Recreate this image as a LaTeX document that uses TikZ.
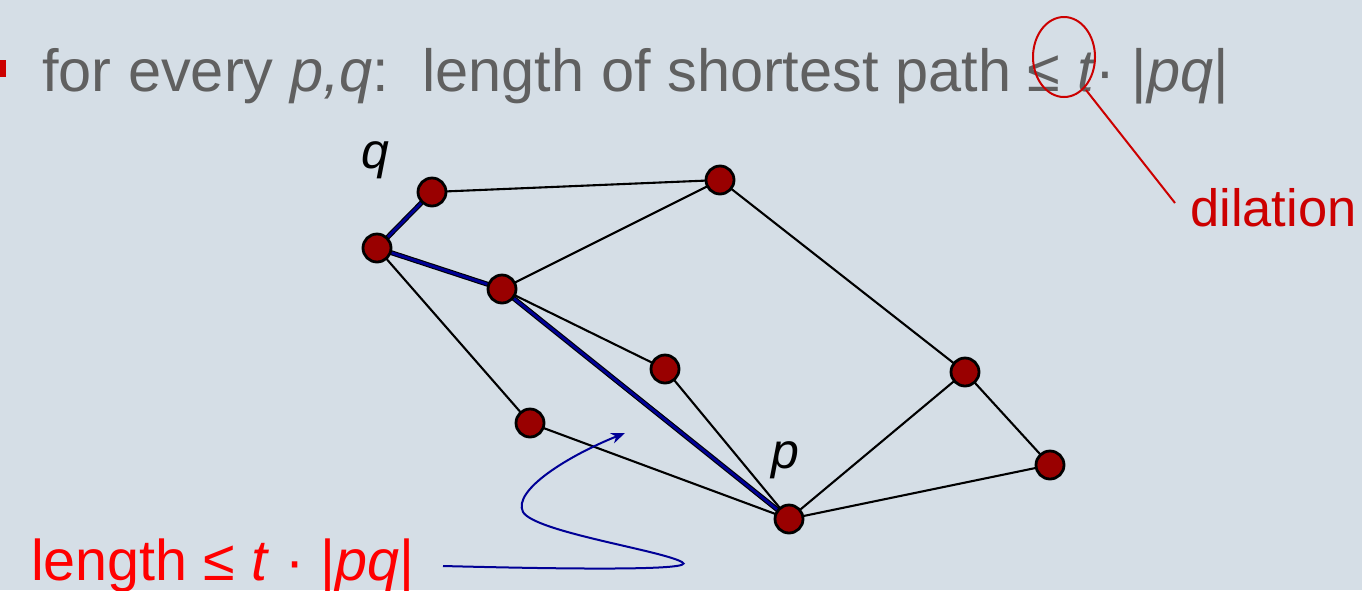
\documentclass[tikz,border=0pt]{standalone}
\usepackage{fontspec}
\setmainfont{Liberation Sans}
\usetikzlibrary{arrows.meta}
\definecolor{bg}{RGB}{213,222,230}
\definecolor{txtgray}{RGB}{96,96,96}
\definecolor{dred}{RGB}{204,0,0}
\definecolor{nodered}{RGB}{153,0,0}
\definecolor{pathblue}{RGB}{0,0,150}
\tikzset{
  vtx/.style={circle,draw=black,line width=2.8pt,fill=nodered,minimum size=28pt,inner sep=0pt},
  edge/.style={draw=black,line width=2.1pt},
  spath/.style={draw=pathblue,line width=2.8pt},
  spathback/.style={draw=black,line width=5pt},
  bigtxt/.style={font=\fontsize{59.5}{66}\selectfont,inner sep=0pt},
}
\begin{document}
\begin{tikzpicture}[x=1pt,y=-1pt]
\fill[bg] (0,0) rectangle (1362,590);
\useasboundingbox (0,0) rectangle (1362,590);
% bullet
\fill[dred] (0,60) rectangle (6,77);
% top line
\node[bigtxt,text=txtgray,anchor=base west] (top) at (42,91)
  {for every \textit{p,q}:\ \ length of shortest path ≤ \textit{t}· |\textit{pq}|};
% dilation
\draw[dred,line width=2pt] (1064,57) ellipse [x radius=31,y radius=40];
\coordinate (ell) at (1086,90);
\node[font=\fontsize{52.5}{60}\selectfont,text=dred,anchor=base west,inner sep=0pt] (dil) at (1190,226) {dilation};
\coordinate (dilend) at (1175,203);
\draw[dred,line width=2pt] (ell) -- (dilend);
% vertices
\coordinate (A) at (432,192);
\coordinate (B) at (377,248);
\coordinate (C) at (720,180);
\coordinate (D) at (502,289);
\coordinate (E) at (665,369);
\coordinate (F) at (530,423);
\coordinate (G) at (965,372);
\coordinate (H) at (1050,465);
\coordinate (P) at (789,519);
% edges
\draw[edge] (A) -- (C);
\draw[edge] (B) -- (F);
\draw[edge] (C) -- (D);
\draw[edge] (C) -- (G);
\draw[edge] (D) -- (E);
\draw[edge] (E) -- (P);
\draw[edge] (F) -- (P);
\draw[edge] (G) -- (P);
\draw[edge] (G) -- (H);
\draw[edge] (H) -- (P);
% shortest path
\draw[spathback] (A) -- (B) -- (D) -- (P);
\draw[spath] (A) -- (B) -- (D) -- (P);
% vertex discs
\foreach \v in {A,B,C,D,E,F,G,H,P} \node[vtx] (n\v) at (\v) {};
% labels
\node[font=\fontsize{50}{60}\selectfont\itshape,anchor=base,inner sep=0pt] (ql) at (375,168) {q};
\node[font=\fontsize{50}{60}\selectfont\itshape,anchor=base,inner sep=0pt] (pl) at (785,468) {p};
% bottom label
\node[font=\fontsize{57.5}{66}\selectfont,inner sep=0pt,text=red,anchor=base west] (lab) at (31,580) {length ≤ \textit{t} · |\textit{pq}|};
\coordinate (cs) at (443,566);
\coordinate (ce) at (625,433);
\draw[pathblue,line width=2pt,-{Stealth[length=14pt,width=11pt]}]
  (cs) .. controls (560,569) and (700,571) .. (682,562)
       .. controls (660,550) and (535,532) .. (523,512)
       .. controls (512,490) and (570,455) .. (ce);
\end{tikzpicture}
\end{document}
